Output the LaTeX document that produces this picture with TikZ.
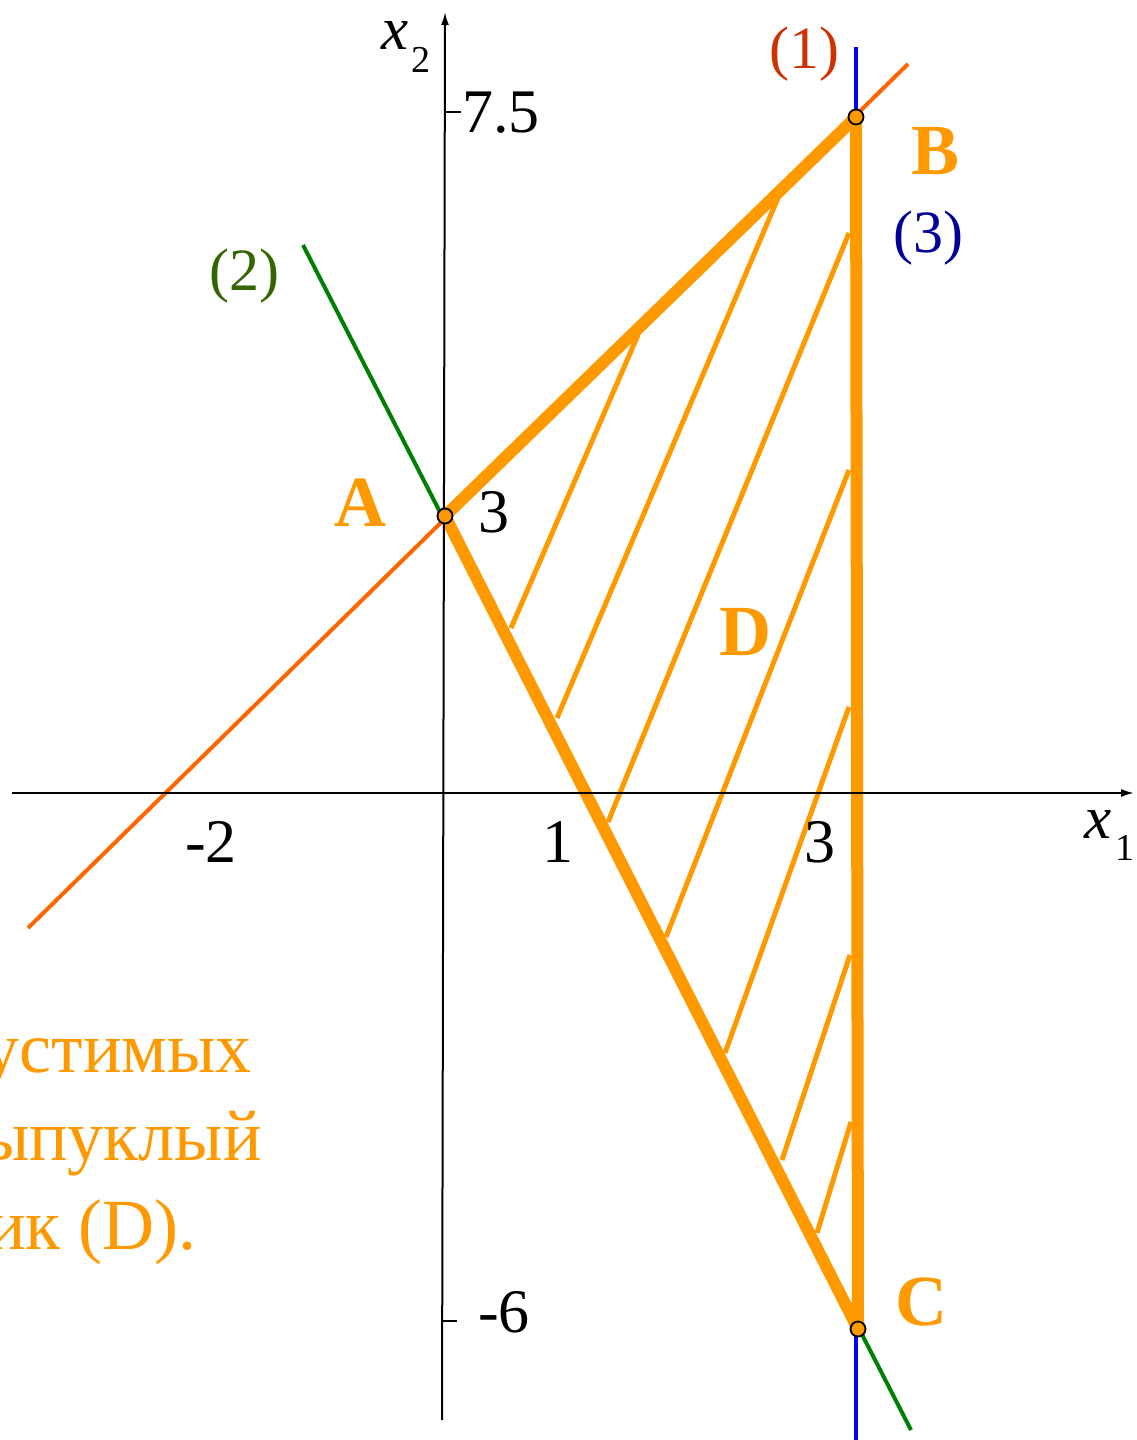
\documentclass[tikz,border=0pt]{standalone}
\usepackage{fontspec}
\setmainfont{Liberation Serif}
\usetikzlibrary{arrows.meta}
\definecolor{dorange}{HTML}{FF9900}
\definecolor{redline}{HTML}{FF6600}
\definecolor{redlab}{HTML}{CC3300}
\definecolor{greenline}{HTML}{008000}
\definecolor{greenlab}{HTML}{336600}
\definecolor{blueline}{HTML}{0000FF}
\definecolor{bluelab}{HTML}{000099}
\begin{document}
\begin{tikzpicture}[x=1pt,y=-1pt,
  axis/.style={line width=2pt, -{Latex[length=13pt,width=8pt]}},
  tickmark/.style={line width=2pt},
  cline/.style={line width=4pt},
  edgeline/.style={line width=12pt, draw=dorange, line join=round, line cap=round},
  hatchline/.style={line width=5pt, draw=dorange},
  num/.style={font=\fontsize{62}{62}\selectfont, inner sep=0pt},
  ptlab/.style={font=\fontsize{72}{72}\selectfont\bfseries, text=dorange, inner sep=0pt},
  clab/.style={font=\fontsize{60}{60}\selectfont, inner sep=0pt},
  axvar/.style={font=\fontsize{61}{61}\selectfont\itshape, inner sep=0pt},
  axsub/.style={font=\fontsize{38}{38}\selectfont, inner sep=0pt},
  note/.style={font=\fontsize{72}{72}\selectfont, text=dorange, inner sep=0pt, anchor=base east},
  pt/.style={circle, draw=black, fill=dorange, line width=1.8pt, minimum size=15pt, inner sep=0pt}
]
\useasboundingbox (0,0) rectangle (1137,1440);
\clip (0,0) rectangle (1137,1440);

% key coordinates
\coordinate (A) at (445,516);
\coordinate (B) at (856,117);
\coordinate (C) at (858,1329);
\coordinate (ox0) at (12,793);
\coordinate (ox1) at (1134,793);
\coordinate (oy0) at (442,1420);
\coordinate (oy1) at (445,12);
\coordinate (l1a) at (28,928);
\coordinate (l1b) at (908,64);
\coordinate (l2a) at (303,245);
\coordinate (l2b) at (911,1430);
\coordinate (l3a) at (856,47);
\coordinate (l3b) at (856,1445);

% constraint lines
\draw[cline, redline] (l1a) -- (l1b);
\draw[cline, greenline] (l2a) -- (l2b);
\draw[cline, blueline] (l3a) -- (l3b);

% hatching
\foreach \xa/\ya/\xb/\yb [count=\i] in {
  511/628/638/335,
  557/718/778/198,
  608/822/849/233,
  666/937/849/470,
  725/1053/849/707,
  782/1160/850/955,
  817/1233/851/1122} {
  \coordinate (h\i a) at (\xa,\ya);
  \coordinate (h\i b) at (\xb,\yb);
  \draw[hatchline] (h\i a) -- (h\i b);
}

% region boundary
\draw[edgeline] (A) -- (B) -- (C) -- cycle;

% axes
\draw[axis] (ox0) -- (ox1);
\draw[axis] (oy0) -- (oy1);
\coordinate (t1a) at (445,112);
\coordinate (t1b) at (461,112);
\coordinate (t2a) at (442,1321);
\coordinate (t2b) at (457,1321);
\draw[tickmark] (t1a) -- (t1b);
\draw[tickmark] (t2a) -- (t2b);

% axis labels
\node[axvar] (x2v) at (395,36) {x};
\node[axsub] (x2s) at (421,60) {2};
\node[axvar] (x1v) at (1098,824) {x};
\node[axsub] (x1s) at (1125,848) {1};

% numbers
\node[num] (n75) at (501,113) {7.5};
\node[num] (n3a) at (494,512) {3};
\node[num] (nm2) at (211,842) {-2};
\node[num] (n1) at (558,842) {1};
\node[num] (n3b) at (820,842) {3};
\node[num] (nm6) at (504,1312) {-6};

% constraint labels
\node[clab, text=redlab] (c1) at (804,54) {(1)};
\node[clab, text=greenlab] (c2) at (244,276) {(2)};
\node[clab, text=bluelab] (c3) at (928,238) {(3)};

% point labels
\node[ptlab] (la) at (360,503) {A};
\node[ptlab] (lb) at (935,151) {B};
\node[ptlab] (lc) at (921,1302) {C};
\node[ptlab] (ld) at (745,632) {D};

% points
\node[pt] (pa) at (A) {};
\node[pt] (pb) at (B) {};
\node[pt] (pc) at (C) {};

% note text (cut at the left edge)
\node[note] (t1) at (252,1072) {устимых};
\node[note] (t2) at (262,1160) {ыпуклый};
\node[note] (t3) at (197,1249) {ик (D).};
\end{tikzpicture}
\end{document}
